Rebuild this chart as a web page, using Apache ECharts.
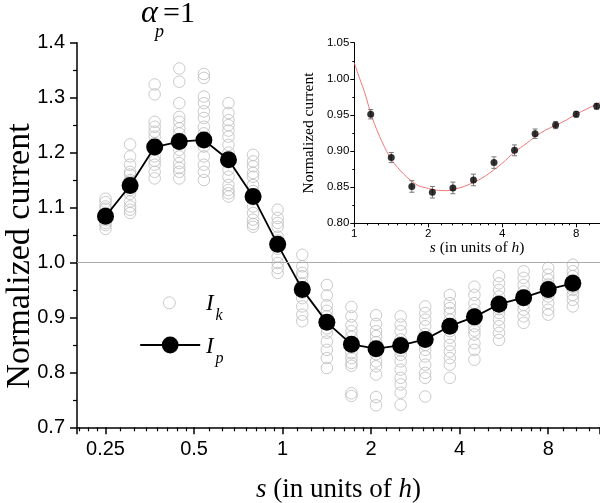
<!DOCTYPE html>
<html><head><meta charset="utf-8">
<script src="https://cdn.jsdelivr.net/npm/echarts@6/dist/echarts.min.js"></script>
<style>html,body{margin:0;padding:0;background:#fff}#c{width:600px;height:503px}</style>
</head><body><div id="c"></div>
<script>
// s values (in units of h)
const sValues = [0.25, 0.3031, 0.3674, 0.4454, 0.54, 0.6547, 0.7937, 0.9622, 1.1665, 1.4142,
  1.7145, 2.0786, 2.5198, 3.0548, 3.7034, 4.4898, 5.4431, 6.5988, 8.0, 9.6986];
// I_p (averaged normalized current)
const ipValues = [1.084, 1.140, 1.210, 1.220, 1.223, 1.187, 1.120, 1.033, 0.951, 0.891,
  0.851, 0.843, 0.849, 0.860, 0.884, 0.901, 0.924, 0.936, 0.951, 0.962];
// I_k (individual currents), one list per s value
const ikColumns = [
  [1.116, 1.110, 1.102, 1.098, 1.090, 1.085, 1.080, 1.077, 1.072, 1.068, 1.061],
  [1.215, 1.193, 1.178, 1.165, 1.160, 1.150, 1.147, 1.140, 1.132, 1.125, 1.111, 1.102, 1.096, 1.090],
  [1.324, 1.306, 1.256, 1.247, 1.238, 1.229, 1.217, 1.210, 1.205, 1.193, 1.185, 1.178, 1.165, 1.153],
  [1.353, 1.329, 1.290, 1.265, 1.256, 1.244, 1.235, 1.225, 1.215, 1.205, 1.193, 1.181, 1.172, 1.165, 1.153],
  [1.343, 1.336, 1.302, 1.290, 1.275, 1.263, 1.247, 1.235, 1.225, 1.211, 1.193, 1.178, 1.165, 1.150],
  [1.290, 1.272, 1.259, 1.250, 1.240, 1.229, 1.214, 1.200, 1.185, 1.169, 1.156, 1.141, 1.132, 1.126, 1.120],
  [1.196, 1.184, 1.175, 1.163, 1.156, 1.141, 1.130, 1.115, 1.102, 1.090, 1.078, 1.070, 1.065],
  [1.096, 1.081, 1.072, 1.065, 1.047, 1.040, 1.025, 1.011, 0.999, 0.990, 0.981],
  [1.014, 0.993, 0.981, 0.975, 0.962, 0.955, 0.945, 0.935, 0.920, 0.905, 0.893],
  [0.959, 0.940, 0.922, 0.912, 0.902, 0.890, 0.880, 0.872, 0.856, 0.841, 0.826, 0.808],
  [0.919, 0.902, 0.886, 0.875, 0.865, 0.855, 0.845, 0.835, 0.826, 0.817, 0.812, 0.762, 0.757],
  [0.904, 0.888, 0.875, 0.866, 0.855, 0.843, 0.833, 0.820, 0.811, 0.796, 0.755, 0.740],
  [0.902, 0.887, 0.875, 0.860, 0.850, 0.840, 0.832, 0.820, 0.805, 0.790, 0.778, 0.763, 0.741],
  [0.920, 0.908, 0.896, 0.884, 0.870, 0.860, 0.850, 0.841, 0.829, 0.814, 0.799, 0.790, 0.756],
  [0.941, 0.926, 0.917, 0.908, 0.896, 0.885, 0.875, 0.863, 0.850, 0.838, 0.826, 0.814, 0.790],
  [0.956, 0.941, 0.926, 0.914, 0.905, 0.895, 0.884, 0.876, 0.869, 0.853, 0.841, 0.823],
  [0.975, 0.962, 0.950, 0.938, 0.930, 0.920, 0.915, 0.908, 0.896, 0.884, 0.872, 0.859],
  [0.984, 0.972, 0.959, 0.947, 0.940, 0.932, 0.923, 0.914, 0.902, 0.890],
  [0.990, 0.978, 0.969, 0.960, 0.955, 0.950, 0.944, 0.938, 0.926, 0.914, 0.905],
  [0.996, 0.984, 0.975, 0.968, 0.960, 0.955, 0.950, 0.941, 0.932, 0.920]
];
// inset: error bars of the I_p points from s = 1.1665 on
const insetStart = 8;
const insetErr = [0.0065, 0.007, 0.008, 0.008, 0.008, 0.008, 0.008, 0.0075, 0.0065, 0.005, 0.004, 0.004];
// inset: fitted curve
const fitS = [1.0, 1.05, 1.1, 1.17, 1.25, 1.33, 1.42, 1.59, 1.8, 2.0, 2.2, 2.4, 2.54, 2.8, 3.1, 3.4, 3.7, 4.0, 4.5, 5.0, 5.45, 6.0, 6.6, 7.3, 8.0, 8.8, 9.7, 10.0];
const fitV = [1.022, 1.001, 0.982, 0.951, 0.925, 0.905, 0.8875, 0.868, 0.853, 0.8483, 0.8455, 0.8452, 0.847, 0.851, 0.8575, 0.865, 0.874, 0.883, 0.899, 0.910, 0.920, 0.929, 0.9356, 0.943, 0.951, 0.958, 0.965, 0.967];
const mainXTicks = [0.25, 0.5, 1, 2, 4, 8];
const insetXTicks = [1, 2, 4, 8];

const SERIF = '"Liberation Serif", "Times New Roman", serif';
const SANS = '"Liberation Sans", Arial, sans-serif';

const ikData = [];
ikColumns.forEach((col, i) => col.forEach(v => ikData.push([sValues[i], v])));
const ipData = sValues.map((s, i) => [s, ipValues[i]]);
const insetData = sValues.slice(insetStart).map((s, i) => [s, ipValues[insetStart + i], insetErr[i]]);
const fitData = fitS.map((s, i) => [s, fitV[i]]);

const tickFmt = list => v => list.some(t => Math.abs(t - v) < 1e-9) ? String(v) : '';

const chart = echarts.init(document.getElementById('c'), null, {renderer: 'canvas'});
chart.setOption({
  animation: false,
  backgroundColor: '#fff',
  grid: [
    {left: 77, right: 0, top: 42.7, bottom: 75.7, containLabel: false, outerBoundsMode: 'none'},
    {left: 354.3, right: 0, top: 42.7, bottom: 279.7, containLabel: false, outerBoundsMode: 'none'}
  ],
  xAxis: [
    {
      type: 'log', logBase: 2, min: 0.2, max: 12, gridIndex: 0,
      axisLine: {lineStyle: {color: '#000', width: 1.5}},
      axisTick: {length: 7, lineStyle: {color: '#000', width: 1.5}},
      minorTick: {show: true, splitNumber: 8, length: 4, lineStyle: {color: '#000', width: 1.2}},
      splitLine: {show: false}, minorSplitLine: {show: false},
      axisLabel: {formatter: tickFmt(mainXTicks), fontFamily: SANS, fontSize: 20, color: '#000', margin: 12},
      name: '{i|s} (in units of {i|h})', nameLocation: 'middle', nameGap: 49, nameMoveOverlap: false,
      nameTextStyle: {fontFamily: SERIF, fontSize: 27, color: '#000',
        rich: {i: {fontFamily: SERIF, fontSize: 27, fontStyle: 'italic', color: '#000'}}}
    },
    {
      type: 'log', logBase: 2, min: 1, max: 10, gridIndex: 1,
      axisLine: {lineStyle: {color: '#000', width: 1}},
      axisTick: {length: 4, lineStyle: {color: '#000', width: 1}},
      minorTick: {show: true, splitNumber: 8, length: 2, lineStyle: {color: '#000', width: 1}},
      splitLine: {show: false}, minorSplitLine: {show: false},
      axisLabel: {formatter: tickFmt(insetXTicks), fontFamily: SANS, fontSize: 11.5, color: '#000', margin: 5},
      name: '{i|s} (in units of {i|h})', nameLocation: 'middle', nameGap: 17, nameMoveOverlap: false,
      nameTextStyle: {fontFamily: SERIF, fontSize: 15.5, color: '#000',
        rich: {i: {fontFamily: SERIF, fontSize: 15.5, fontStyle: 'italic', color: '#000'}}}
    }
  ],
  yAxis: [
    {
      type: 'value', min: 0.7, max: 1.4, interval: 0.1, gridIndex: 0,
      axisLine: {show: true, lineStyle: {color: '#000', width: 1.5}},
      axisTick: {show: true, length: 7, lineStyle: {color: '#000', width: 1.5}},
      minorTick: {show: true, splitNumber: 2, length: 4, lineStyle: {color: '#000', width: 1.2}},
      splitLine: {show: false},
      axisLabel: {formatter: v => v.toFixed(1), fontFamily: SANS, fontSize: 20, color: '#000', margin: 12},
      name: 'Normalized current', nameLocation: 'middle', nameGap: 40, nameRotate: 90, nameMoveOverlap: false,
      nameTextStyle: {fontFamily: SERIF, fontSize: 34, color: '#000', padding: [0, 42, 0, 0]}
    },
    {
      type: 'value', min: 0.8, max: 1.05, interval: 0.05, gridIndex: 1,
      axisLine: {show: true, lineStyle: {color: '#000', width: 1}},
      axisTick: {show: true, length: 4, lineStyle: {color: '#000', width: 1}},
      minorTick: {show: true, splitNumber: 2, length: 2, lineStyle: {color: '#000', width: 1}},
      splitLine: {show: false},
      axisLabel: {formatter: v => v.toFixed(2), fontFamily: SANS, fontSize: 11.5, color: '#000', margin: 5},
      name: 'Normalized current', nameLocation: 'middle', nameGap: 37, nameRotate: 90, nameMoveOverlap: false,
      nameTextStyle: {fontFamily: SERIF, fontSize: 15.5, color: '#000'}
    }
  ],
  legend: [
    {data: ['Ik'], orient: 'vertical', left: 139.3, top: 296.3, padding: 0, itemWidth: 60, itemHeight: 12,
      selectedMode: false, formatter: () => '', textStyle: {fontSize: 1},
      itemStyle: {color: 'transparent', borderColor: '#bdbdbd', borderWidth: 1}},
    {data: ['Ip'], orient: 'vertical', left: 139.3, top: 334.5, padding: 0, itemWidth: 60, itemHeight: 21,
      selectedMode: false, formatter: () => '', textStyle: {fontSize: 1},
      itemStyle: {color: '#000'}, lineStyle: {color: '#000', width: 1.8}}
  ],
  graphic: [
    {type: 'text', x: 141, y: 14, style: {text: 'α', font: 'italic 32px ' + SERIF, fill: '#000', verticalAlign: 'middle'}},
    {type: 'text', x: 155, y: 32, style: {text: 'p', font: 'italic 18px ' + SERIF, fill: '#000', verticalAlign: 'middle'}},
    {type: 'text', x: 163, y: 14.5, style: {text: '=1', font: '30px ' + SERIF, fill: '#000', verticalAlign: 'middle'}},
    {type: 'text', x: 206, y: 304, style: {text: 'I', font: 'italic 23px ' + SERIF, fill: '#000', verticalAlign: 'middle'}},
    {type: 'text', x: 215.5, y: 316, style: {text: 'k', font: 'italic 16px ' + SERIF, fill: '#000', verticalAlign: 'middle'}},
    {type: 'text', x: 206, y: 347, style: {text: 'I', font: 'italic 23px ' + SERIF, fill: '#000', verticalAlign: 'middle'}},
    {type: 'text', x: 215.5, y: 358.5, style: {text: 'p', font: 'italic 16px ' + SERIF, fill: '#000', verticalAlign: 'middle'}}
  ],
  series: [
    {
      name: 'Ik', type: 'scatter', xAxisIndex: 0, yAxisIndex: 0, data: ikData,
      symbol: 'circle', symbolSize: 11.5, z: 2,
      itemStyle: {color: 'transparent', borderColor: '#bdbdbd', borderWidth: 1},
      markLine: {silent: true, symbol: 'none', animation: false, label: {show: false},
        lineStyle: {color: '#aaaaaa', type: 'solid', width: 1}, data: [{yAxis: 1}]}
    },
    {
      name: 'Ip', type: 'line', xAxisIndex: 0, yAxisIndex: 0, data: ipData,
      symbol: 'circle', symbolSize: 17, z: 3,
      itemStyle: {color: '#000'}, lineStyle: {color: '#000', width: 1.8}
    },
    {
      name: 'fit', type: 'line', xAxisIndex: 1, yAxisIndex: 1, data: fitData,
      smooth: 0.3, showSymbol: false, symbol: 'none', z: 2,
      lineStyle: {color: '#f07878', width: 1}
    },
    {
      name: 'err', type: 'custom', xAxisIndex: 1, yAxisIndex: 1, data: insetData, z: 3,
      encode: {x: 0, y: 1},
      renderItem: (params, api) => {
        const x = api.value(0), y = api.value(1), e = api.value(2);
        const t = api.coord([x, y + e]);
        const b = api.coord([x, y - e]);
        const w = 2.5;
        const st = {stroke: '#777', lineWidth: 1};
        return {type: 'group', children: [
          {type: 'line', shape: {x1: t[0], y1: t[1], x2: b[0], y2: b[1]}, style: st},
          {type: 'line', shape: {x1: t[0] - w, y1: t[1], x2: t[0] + w, y2: t[1]}, style: st},
          {type: 'line', shape: {x1: b[0] - w, y1: b[1], x2: b[0] + w, y2: b[1]}, style: st}
        ]};
      }
    },
    {
      name: 'inset', type: 'scatter', xAxisIndex: 1, yAxisIndex: 1,
      data: insetData.map(d => [d[0], d[1]]),
      symbol: 'circle', symbolSize: 7, z: 4, itemStyle: {color: '#000'}
    }
  ]
});
</script></body></html>
